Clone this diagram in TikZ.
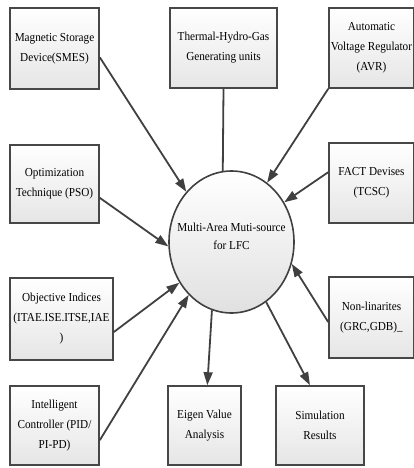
\documentclass[tikz,border=0pt]{standalone}
\usepackage{fontspec}
\setmainfont{Liberation Serif}[FakeStretch=0.92]
\usepackage{tkz-euclide}
\usetikzlibrary{arrows.meta,shadows,shapes.geometric}

\begin{document}
\begin{tikzpicture}[x=1pt,y=-1pt,
                    box/.style={draw=black!72,line width=1.6pt,top color=white,bottom color=black!10,
                        drop shadow={shadow xshift=1pt,shadow yshift=-1pt,opacity=0.3},
                        inner sep=1pt,align=center,font=\fontsize{12.2}{20}\selectfont},
                    link/.style={draw=black!75,line width=1.8pt,-{Triangle[length=13pt,width=9pt]}}]
                    \useasboundingbox (0,0) rectangle (414,468);
                    \tkzDefPoints{54.5/48.5/S,223.5/48/T,371.5/48/V,54.5/184/O,371.5/183/F,61.5/319/J,
                        371.5/317.5/N,54.5/425.5/I,204.5/425.5/E,320/425.5/R,231.5/242/C}
                    \node[box,minimum width=89pt,minimum height=81pt] (smes) at (S) {Magnetic Storage\\Device(SMES)};
                    \node[box,minimum width=107pt,minimum height=80pt] (thermal) at (T) {Thermal-Hydro-Gas\\Generating units};
                    \node[box,minimum width=85pt,minimum height=80pt] (avr) at (V) {Automatic\\Voltage Regulator\\(AVR)};
                    \node[box,minimum width=89pt,minimum height=78pt] (opt) at (O) {Optimization\\Technique (PSO)};
                    \node[box,minimum width=85pt,minimum height=80pt] (fact) at (F) {FACT Devises\\(TCSC)};
                    \node[box,minimum width=103pt,minimum height=82pt] (obj) at (J) {Objective Indices\\(ITAE.ISE.ITSE,IAE\\)};
                    \node[box,minimum width=85pt,minimum height=81pt] (nonlin) at (N) {Non-linarites\\(GRC,GDB)\_};
                    \node[box,minimum width=89pt,minimum height=79pt] (intel) at (I) {Intelligent\\Controller (PID/\\PI-PD)};
                    \node[box,minimum width=73pt,minimum height=79pt] (eigen) at (E) {Eigen Value\\Analysis};
                    \node[box,minimum width=88pt,minimum height=79pt] (sim) at (R) {Simulation\\Results};
                    \node[ellipse,draw=black!75,line width=1.6pt,top color=white,bottom color=black!12,
                        minimum width=125pt,minimum height=142pt,inner sep=0pt] (lfc) at (C) {};
                    \node[align=center,font=\fontsize{12.2}{18}\selectfont] (lfctxt) at ([yshift=6pt]C) {Multi-Area Muti-source\\for LFC};
                    \draw[link] (smes.-11) -- (lfc.132.5);
                    \draw[draw=black!75,line width=1.8pt] (thermal.south) -- (lfc.97);
                    \draw[link] (avr.south west) -- (lfc.59);
                    \draw[link] (fact.166) -- (lfc.37);
                    \draw[link] (opt.-17) -- (lfc.184.5);
                    \draw[link] (obj.-14) -- (lfc.218);
                    \draw[link] (intel.-18) -- (lfc.231.5);
                    \draw[link] (nonlin.186) -- (lfc.-20);
                    \draw[link] (lfc.254) -- (eigen.86);
                    \draw[link] (lfc.-60.5) -- (sim.104);
                \end{tikzpicture}
\end{document}
